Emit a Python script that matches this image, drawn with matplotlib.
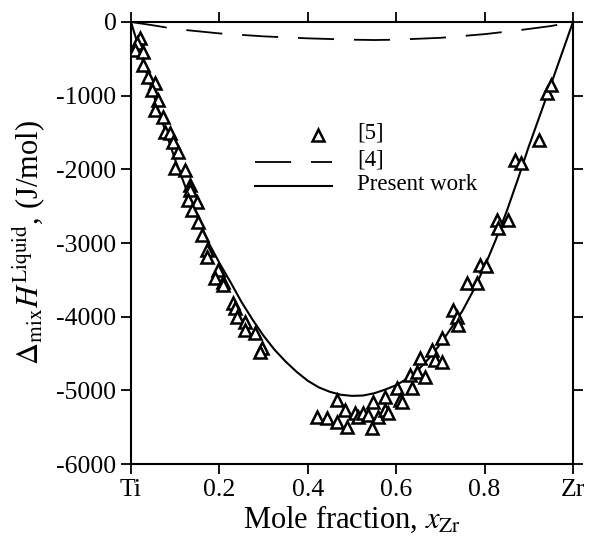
import matplotlib.pyplot as plt
import numpy as np

plt.rcParams['font.family'] = 'Liberation Serif'
plt.rcParams['mathtext.fontset'] = 'stix'

# experimental enthalpy of mixing, ref [5]
x_exp = [0.020, 0.014, 0.009, 0.027, 0.027, 0.038, 0.054, 0.048, 0.061, 0.054,
         0.072, 0.077, 0.088, 0.095, 0.106, 0.100, 0.122, 0.133, 0.133, 0.129,
         0.149, 0.138, 0.152, 0.161, 0.172, 0.172, 0.197, 0.190, 0.208, 0.208,
         0.231, 0.235, 0.240, 0.258, 0.258, 0.281, 0.296, 0.292,
         0.466, 0.421, 0.443, 0.466, 0.484, 0.489, 0.507, 0.514, 0.525, 0.536,
         0.545, 0.548, 0.559, 0.575, 0.575, 0.581, 0.602, 0.609, 0.613,
         0.636, 0.631, 0.647, 0.665, 0.654, 0.681, 0.688, 0.704, 0.704,
         0.729, 0.738, 0.740, 0.760, 0.783, 0.790, 0.803, 0.828, 0.853, 0.830,
         0.869, 0.882, 0.923, 0.941, 0.950]
h_exp = [-217, -285, -380, -407, -584, -747, -828, -923, -1059, -1195,
         -1290, -1493, -1507, -1629, -1765, -1982, -2009, -2213, -2281, -2416,
         -2444, -2552, -2715, -2892, -3095, -3190, -3367, -3475, -3530, -3570,
         -3815, -3883, -4005, -4073, -4181, -4222, -4425, -4480,
         -5131, -5362, -5376, -5430, -5267, -5498, -5308, -5362, -5308, -5335,
         -5511, -5158, -5362, -5090, -5267, -5308, -4968, -5131, -5158,
         -4968, -4792, -4751, -4819, -4561, -4453, -4588, -4616, -4290,
         -3910, -4005, -4113, -3543, -3543, -3299, -3312, -2688, -2688, -2797,
         -1873, -1914, -1602, -964, -855]

# assessment of ref [4]
x_ref4 = [0.0, 0.05, 0.1, 0.2, 0.3, 0.4, 0.5, 0.55, 0.6, 0.7, 0.8, 0.88, 0.95, 1.0]
h_ref4 = [0, -45, -95, -155, -195, -222, -240, -245, -240, -215, -165, -110, -55, 0]

# present calculation
x_calc = [0.0, 0.025, 0.05, 0.075, 0.1, 0.125, 0.15, 0.175, 0.2, 0.225, 0.25,
          0.275, 0.3, 0.325, 0.35, 0.375, 0.4, 0.425, 0.45, 0.475, 0.5,
          0.525, 0.55, 0.575, 0.6, 0.625, 0.65, 0.675, 0.7, 0.725, 0.75,
          0.775, 0.8, 0.825, 0.85, 0.875, 0.9, 0.925, 0.95, 0.975, 1.0]
h_calc = [0, -490, -970, -1430, -1870, -2270, -2640, -2990, -3270, -3530, -3800,
          -4040, -4260, -4450, -4610, -4750, -4870, -4960, -5020, -5060, -5075,
          -5070, -5040, -4990, -4930, -4840, -4720, -4560, -4370, -4150, -3920,
          -3640, -3320, -2960, -2570, -2140, -1690, -1270, -850, -425, 0]

fig = plt.figure(figsize=(5.89, 5.39), dpi=100)
ax = fig.add_axes([0.2224, 0.1391, 0.7504, 0.8201])

mk = dict(marker='^', ms=8.5, mfc='white', mec='black', mew=1.8)
dash = (20, 11)

ax.plot(x_exp, h_exp, linestyle='none', zorder=3, **mk)
ax.plot(x_ref4, h_ref4, color='black', lw=1.3, dashes=dash)
ax.plot(x_calc, h_calc, color='black', lw=1.5)

# legend, placed by hand
tr = ax.transAxes
ax.plot([0.423], [0.744], transform=tr, linestyle='none', **mk)
ax.plot([0.281, 0.455], [0.683, 0.683], transform=tr, color='black', lw=1.3, dashes=dash)
ax.plot([0.281, 0.455], [0.629, 0.629], transform=tr, color='black', lw=1.5)
for ty, txt in [(0.749, '[5]'), (0.688, '[4]'), (0.633, 'Present work')]:
    ax.text(0.511, ty, txt, transform=tr, fontsize=16.5, va='center', ha='left')

ax.set_xlim(0, 1)
ax.set_ylim(-6000, 0)
ax.set_xticks([0, 0.2, 0.4, 0.6, 0.8, 1.0])
ax.set_xticklabels(['Ti', '0.2', '0.4', '0.6', '0.8', 'Zr'])
yt = [0, -1000, -2000, -3000, -4000, -5000, -6000]
ax.set_yticks(yt)
ax.set_yticklabels([str(v) for v in yt])
ax.tick_params(direction='out', length=7.5, width=1.3, labelsize=18.5,
               top=True, right=True, pad=3)
for s in ax.spines.values():
    s.set_linewidth(1.5)

ax.set_xlabel(r'Mole fraction, $x_{\mathrm{Zr}}$', fontsize=22, labelpad=2)
ax.set_ylabel(r'$\Delta_{\mathrm{mix}}H^{\mathrm{Liquid}}$, (J/mol)', fontsize=22, labelpad=6)

fig.savefig('out.png', dpi=100)
